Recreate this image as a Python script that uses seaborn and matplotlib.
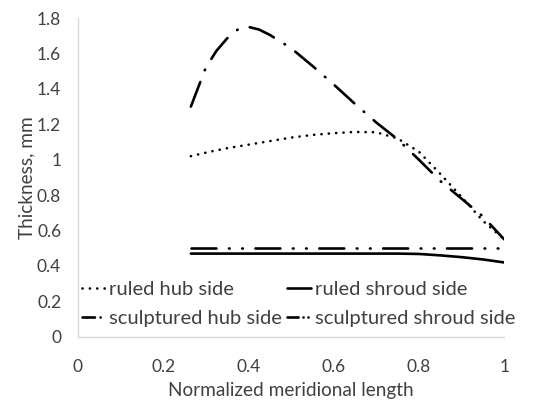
import numpy as np
import pandas as pd
import matplotlib
matplotlib.use("Agg")
import matplotlib.pyplot as plt
from matplotlib.lines import Line2D
import seaborn as sns

# normalized meridional length (shared grid)
x_len = [0.265, 0.30, 0.325, 0.35, 0.375, 0.40, 0.425, 0.45, 0.50, 0.55, 0.60, 0.65,
         0.70, 0.75, 0.80, 0.85, 0.90, 0.95, 1.00]

# thickness, mm
ruled_hub = [1.02, 1.04, 1.053, 1.065, 1.075, 1.085, 1.095, 1.105, 1.125, 1.14, 1.15, 1.157,
             1.155, 1.12, 1.045, 0.92, 0.79, 0.655, 0.55]
ruled_shroud = [0.47, 0.47, 0.47, 0.47, 0.47, 0.47, 0.47, 0.47, 0.47, 0.47, 0.47, 0.47,
                0.47, 0.47, 0.468, 0.46, 0.45, 0.437, 0.42]
sculpt_hub = [1.30, 1.52, 1.615, 1.685, 1.735, 1.75, 1.735, 1.705, 1.63, 1.53, 1.425, 1.315,
              1.21, 1.115, 1.00, 0.88, 0.78, 0.68, 0.55]
sculpt_shroud = [0.50] * len(x_len)

labels = ["ruled hub side", "ruled shroud side",
          "sculptured hub side", "sculptured shroud side"]

sns.set_style("white")
plt.rcParams['font.family'] = ['Lato', 'DejaVu Sans']
plt.rcParams['lines.scale_dashes'] = False

fig = plt.figure(figsize=(5.41, 4.01), dpi=100)
ax = fig.add_axes([0.144, 0.16, 0.788, 0.795])

lw = 1.9
styles = {
    "ruled hub side": (ruled_hub, (0, (0.1, 5.2)), (0, (0.1, 5.2))),
    "ruled shroud side": (ruled_shroud, "solid", "solid"),
    "sculptured hub side": (sculpt_hub, (0, (19, 9, 0.5, 9)), (0, (9, 4, 0.1, 20))),
    "sculptured shroud side": (sculpt_shroud, (0, (18, 9, 0.5, 9, 0.5, 9)),
                               (0, (8, 3.5, 0.1, 3.5, 0.1, 20))),
}
handles = {}
for name in labels:
    vals, ls, leg_ls = styles[name]
    sns.lineplot(x=x_len, y=vals, ax=ax, color="black", linewidth=lw,
                 linestyle=ls)
    ax.lines[-1].set_dash_capstyle("round")
    handles[name] = Line2D([], [], color="black", linewidth=lw, linestyle=leg_ls,
                           dash_capstyle="round")

txt = "#404040"
ax.set_xlim(0, 1)
ax.set_ylim(0, 1.8)
ax.set_xticks(np.arange(0, 1.01, 0.2))
ax.set_yticks(np.arange(0, 1.81, 0.2))
ax.set_xticklabels(["0", "0.2", "0.4", "0.6", "0.8", "1"])
ax.set_yticklabels(["0", "0.2", "0.4", "0.6", "0.8", "1", "1.2", "1.4", "1.6", "1.8"])
ax.tick_params(length=0, labelsize=12.5, colors=txt)
ax.tick_params(axis="y", pad=12)
ax.tick_params(axis="x", pad=16)
for s in ["top", "right"]:
    ax.spines[s].set_visible(False)
for s in ["left", "bottom"]:
    ax.spines[s].set_color("#d9d9d9")
    ax.spines[s].set_linewidth(1)

ax.set_xlabel("Normalized meridional length", fontsize=13.7, color=txt, labelpad=5)
ax.set_ylabel("Thickness, mm", fontsize=13.7, color=txt, labelpad=1)

order = ["ruled hub side", "sculptured hub side", "ruled shroud side", "sculptured shroud side"]
leg = fig.legend([handles[n] for n in order], order, ncol=2, frameon=False,
                 fontsize=14.5, handlelength=1.2, handletextpad=0.15,
                 columnspacing=0.25, labelspacing=0.6, borderpad=0, borderaxespad=0,
                 loc="lower left", bbox_to_anchor=(0.152, 0.185))
for t in leg.get_texts():
    t.set_color(txt)

fig.savefig("out.png", dpi=100)
